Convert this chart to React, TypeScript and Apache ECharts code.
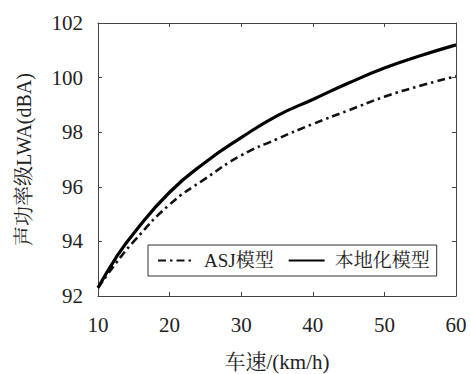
import React, { useEffect, useRef } from "react";
import * as echarts from "echarts";

const speeds = [10, 12.5, 15, 20, 25, 30, 35, 40, 45, 50, 55, 60];
const asjValues = [92.3, 93.2, 94.0, 95.35, 96.3, 97.15, 97.75, 98.3, 98.8, 99.3, 99.7, 100.05];
const localValues = [92.3, 93.4, 94.3, 95.8, 96.9, 97.8, 98.6, 99.2, 99.8, 100.35, 100.8, 101.2];
const seriesNames = ["ASJ模型", "本地化模型"];
const xTitle = "车速/(km/h)";
const yTitle = "声功率级LWA(dBA)";

const FONT = "'Liberation Serif', 'Noto Serif CJK SC'";

export default function App() {
  const ref = useRef<HTMLDivElement>(null);
  useEffect(() => {
    if (!ref.current) return;
    const chart = echarts.init(ref.current, undefined, { renderer: "svg" });
    const axisCommon = {
      axisLine: { show: true, lineStyle: { color: "#444", width: 1 } },
      axisTick: { show: true, inside: true, length: 4, lineStyle: { color: "#444" } },
      splitLine: { show: false },
    };
    chart.setOption({
      animation: false,
      backgroundColor: "#fff",
      grid: { left: 98, right: 15, top: 23, bottom: 78, show: false, outerBoundsMode: "none" },
      legend: {
        data: seriesNames,
        left: 148,
        top: 245,
        orient: "horizontal",
        borderColor: "#333",
        borderWidth: 1,
        padding: [6, 7, 6, 9],
        itemGap: 14,
        itemWidth: 36,
        itemHeight: 1,
        textStyle: { fontSize: 19, color: "#222", fontFamily: FONT, padding: [0, 0, 0, 5] },
      },
      xAxis: [
        {
          type: "value",
          min: 10,
          max: 60,
          interval: 10,
          position: "bottom",
          name: xTitle,
          nameLocation: "middle",
          nameGap: 55,
          nameTextStyle: { fontSize: 21, color: "#222", fontFamily: FONT },
          axisLabel: { fontSize: 21, color: "#222", margin: 18, fontFamily: FONT },
          ...axisCommon,
        },
        {
          type: "value",
          min: 10,
          max: 60,
          interval: 10,
          position: "top",
          axisLabel: { show: false },
          ...axisCommon,
        },
      ],
      yAxis: [
        {
          type: "value",
          min: 92,
          max: 102,
          interval: 2,
          position: "left",
          name: yTitle,
          nameLocation: "middle",
          nameGap: 64,
          nameRotate: 90,
          nameTextStyle: { fontSize: 20, color: "#222", fontFamily: FONT },
          axisLabel: { fontSize: 21, color: "#222", margin: 15, fontFamily: FONT },
          ...axisCommon,
        },
        {
          type: "value",
          min: 92,
          max: 102,
          interval: 2,
          position: "right",
          axisLabel: { show: false },
          ...axisCommon,
        },
      ],
      series: [
        {
          name: seriesNames[0],
          type: "line",
          smooth: true,
          symbol: "none",
          data: speeds.map((s, i) => [s, asjValues[i]]),
          lineStyle: { color: "#111", width: 2.6, type: [8, 4, 2.5, 4] },
          itemStyle: { color: "#111" },
          z: 2,
        },
        {
          name: seriesNames[1],
          type: "line",
          smooth: true,
          symbol: "none",
          data: speeds.map((s, i) => [s, localValues[i]]),
          lineStyle: { color: "#000", width: 3.2, type: "solid" },
          itemStyle: { color: "#000" },
          z: 3,
        },
      ],
    });
    return () => chart.dispose();
  }, []);
  return <div ref={ref} style={{ width: 471, height: 374, position: "absolute", left: 0, top: 0 }} />;
}
